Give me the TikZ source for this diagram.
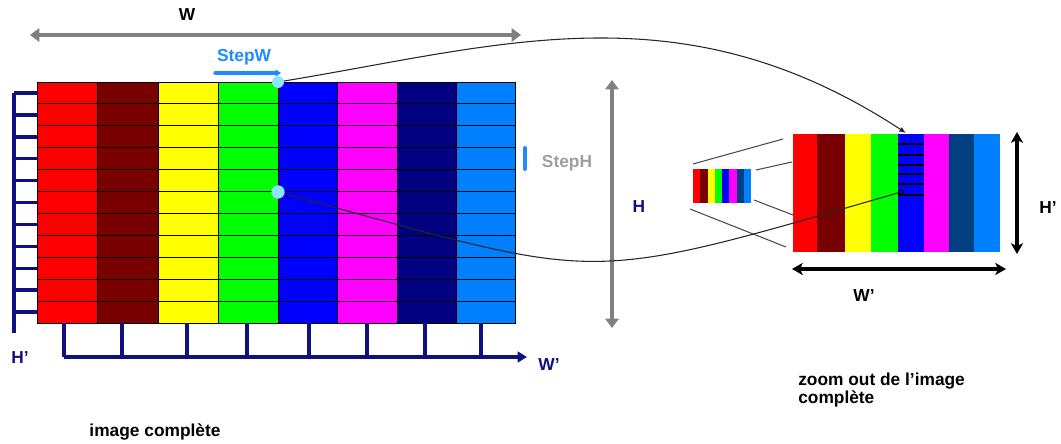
\documentclass[tikz,border=0pt]{standalone}
\usepackage{fontspec}
\setmainfont{Liberation Sans}
\usetikzlibrary{arrows.meta}
\definecolor{navyc}{RGB}{16,16,128}
\definecolor{cR}{RGB}{255,0,0}
\definecolor{cDR}{RGB}{120,0,0}
\definecolor{cY}{RGB}{255,255,0}
\definecolor{cG}{RGB}{0,255,0}
\definecolor{cB}{RGB}{0,0,255}
\definecolor{cM}{RGB}{255,0,255}
\definecolor{cN}{RGB}{0,0,128}
\definecolor{cS}{RGB}{0,64,128}
\definecolor{cL}{RGB}{0,128,255}
\definecolor{stepblue}{RGB}{30,140,255}
\definecolor{cyanc}{RGB}{140,228,255}
\definecolor{grayarr}{RGB}{128,128,128}
\begin{document}
\begin{tikzpicture}[x=0.75pt,y=-0.75pt,
  lbl/.style={font=\bfseries\fontsize{13}{13.5}\selectfont, inner sep=0pt},
  gridline/.style={black, line width=0.75pt},
  grayarrow/.style={grayarr, line width=3pt, {Triangle[length=7pt,width=10pt]}-{Triangle[length=7pt,width=10pt]}},
  blackarrow/.style={black, line width=2.6pt, {Stealth[length=8pt,width=9pt,inset=2pt]}-{Stealth[length=8pt,width=9pt,inset=2pt]}},
  navyaxis/.style={navyc, line width=2.6pt},
  conn/.style={black!85, line width=0.8pt},
  zoomline/.style={black!70, line width=0.8pt},
  dot/.style={circle, fill=cyanc, inner sep=0pt, minimum size=#1},
]
\useasboundingbox (0,0) rectangle (1061,443);

% ---- main image grid
\foreach \xa/\xb/\c in {37/97/cR,97/158/cDR,158/218/cY,218/278/cG,278/337/cB,337/397/cM,397/456/cN,456/515/cL}
  \fill[\c] (\xa,82) rectangle (\xb,323);
\foreach \i in {1,...,10}
  \draw[gridline] (37,{82+\i*21.909}) -- (515,{82+\i*21.909});
\foreach \x in {97,158,218,278,337,397,456}
  \draw[gridline] (\x,82) -- (\x,323);
\draw[gridline] (37,82) rectangle (515,323);

% ---- left axis (H')
\draw[navyaxis] (14,93) -- (14,333);
\foreach \i in {0,...,10}
  \draw[navyaxis] (14,{93+\i*21.909}) -- (37,{93+\i*21.909});
% ---- bottom axis (W')
\coordinate (ax0) at (64,357);
\coordinate (ax1) at (527,357);
\draw[navyaxis, -{Triangle[length=7pt,width=8pt]}] (ax0) -- (ax1);
\foreach \x in {64,122,187,247,309,367,425,481}
  \draw[navyaxis] (\x,323) -- (\x,357);

% ---- W and H arrows
\coordinate (wl) at (30,35);
\coordinate (wr) at (521,35);
\draw[grayarrow] (wl) -- (wr);
\coordinate (ht) at (612,80);
\coordinate (hb) at (612,328);
\draw[grayarrow] (ht) -- (hb);

% ---- StepW / StepH marks
\coordinate (sw0) at (215,73);
\coordinate (sw1) at (281,73);
\draw[stepblue, line width=2.4pt, line cap=round, -{Triangle[length=4pt,width=5pt]}] (sw0) -- (sw1);
\coordinate (sh0) at (525,148);
\coordinate (sh1) at (525,169);
\draw[stepblue, line width=3pt, line cap=round] (sh0) -- (sh1);

% ---- small image
\foreach \i/\c in {0/cR,1/cDR,2/cY,3/cG,4/cB,5/cM,6/cS,7/cL}
  \fill[\c] ({693+\i*7.25},169) rectangle ({693+(\i+1)*7.25},203);

% ---- zoomed image
\foreach \xa/\xb/\c in {793/817/cR,817/845/cDR,845/871/cY,871/898/cG,898/924/cB,924/949/cM,949/974/cS,974/1000/cL}
  \fill[\c] (\xa,134) rectangle (\xb,252);
\foreach \y in {144,155,165,174,184,195}
  \draw[black, line width=1.1pt] (898,\y) -- (924,\y);

% ---- zoom lines
\coordinate (z1a) at (693,164); \coordinate (z1b) at (783,139);
\coordinate (z2a) at (756,170); \coordinate (z2b) at (792,162);
\coordinate (z3a) at (754,200); \coordinate (z3b) at (793,215);
\coordinate (z4a) at (690,209); \coordinate (z4b) at (786,247);
\draw[zoomline] (z1a) -- (z1b);
\draw[zoomline] (z2a) -- (z2b);
\draw[zoomline] (z3a) -- (z3b);
\draw[zoomline] (z4a) -- (z4b);

% ---- H' and W' arrows of zoomed image
\coordinate (hp0) at (1017,132);
\coordinate (hp1) at (1017,254);
\draw[blackarrow] (hp0) -- (hp1);
\coordinate (wp0) at (792,269);
\coordinate (wp1) at (1006,269);
\draw[blackarrow] (wp0) -- (wp1);

% ---- connectors
\coordinate (p1) at (278,82);
\coordinate (p2) at (278,192);
\coordinate (t1) at (906,133);
\coordinate (t2) at (901,192);
\draw[conn, -{Latex[length=5pt,width=4pt]}] (p1) .. controls (500,46) and (680,-15) .. (t1);
\draw[conn] (p2) .. controls (608,281) and (570,288) .. (t2);
\node[draw=black, fill=cB, circle, inner sep=0pt, minimum size=3.5pt, line width=0.8pt] (e2) at (t2) {};
\node[dot=9pt] (c1) at (p1) {};
\node[dot=10pt] (c2) at (p2) {};

% ---- labels
\node[lbl] (lW) at (187,15) {W};
\node[lbl, text=stepblue] (lSW) at (244,57) {StepW};
\node[lbl, text=black!38] (lSH) at (567,163) {StepH};
\node[lbl, text=navyc] (lH) at (639,207) {H};
\node[lbl, text=navyc] (lHl) at (20,358) {H\char"27};
\node[lbl, text=navyc] (lWl) at (549,365) {W\char"27};
\node[lbl] (lHr) at (1048,208) {H\char"27};
\node[lbl] (lWr) at (864,296) {W\char"27};
\node[lbl, anchor=north west, align=left] (lzoom) at (798,373) {zoom out de l\char"27 image\\complète};
\node[lbl] (limg) at (155,432) {image complète};
\end{tikzpicture}
\end{document}
